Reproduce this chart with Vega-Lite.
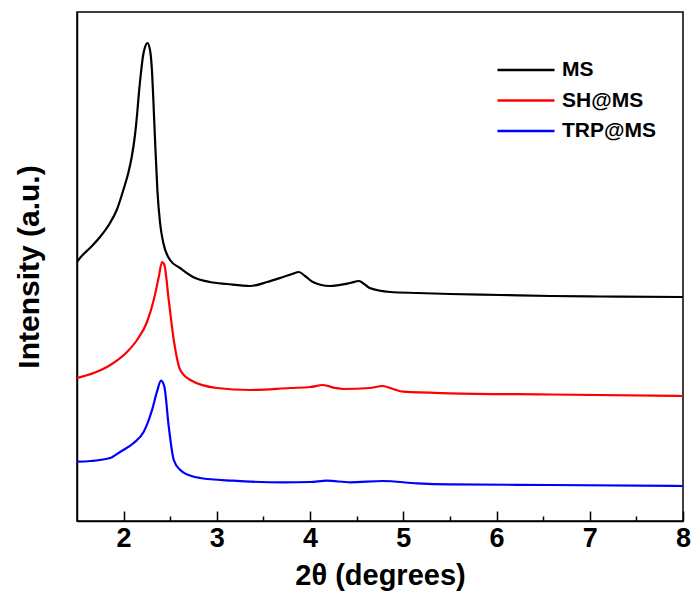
{
  "$schema": "https://vega.github.io/schema/vega-lite/v6.json",
  "width": 606,
  "height": 509,
  "autosize": {"type": "none"},
  "padding": {"left": 77, "top": 12, "right": 13, "bottom": 87},
  "config": {
    "font": "Liberation Sans",
    "view": {"stroke": "#000000", "strokeWidth": 1.5},
    "axis": {"domainColor": "#000000", "domainWidth": 1.5, "tickColor": "#000000", "tickWidth": 1.5, "grid": false, "labelColor": "#000000", "titleColor": "#000000"}
  },
  "data": {"values": [
    {"x": 1.500, "y": 259, "series": "MS"},
    {"x": 1.532, "y": 263, "series": "MS"},
    {"x": 1.639, "y": 273, "series": "MS"},
    {"x": 1.747, "y": 284, "series": "MS"},
    {"x": 1.854, "y": 298, "series": "MS"},
    {"x": 1.926, "y": 311, "series": "MS"},
    {"x": 1.997, "y": 331, "series": "MS"},
    {"x": 2.050, "y": 348, "series": "MS"},
    {"x": 2.087, "y": 364, "series": "MS"},
    {"x": 2.122, "y": 386, "series": "MS"},
    {"x": 2.144, "y": 406, "series": "MS"},
    {"x": 2.165, "y": 429, "series": "MS"},
    {"x": 2.187, "y": 449, "series": "MS"},
    {"x": 2.208, "y": 465, "series": "MS"},
    {"x": 2.230, "y": 474, "series": "MS"},
    {"x": 2.256, "y": 478, "series": "MS"},
    {"x": 2.283, "y": 471, "series": "MS"},
    {"x": 2.305, "y": 449, "series": "MS"},
    {"x": 2.319, "y": 421, "series": "MS"},
    {"x": 2.337, "y": 381, "series": "MS"},
    {"x": 2.362, "y": 331, "series": "MS"},
    {"x": 2.391, "y": 298, "series": "MS"},
    {"x": 2.426, "y": 278, "series": "MS"},
    {"x": 2.498, "y": 261, "series": "MS"},
    {"x": 2.605, "y": 253, "series": "MS"},
    {"x": 2.745, "y": 244, "series": "MS"},
    {"x": 2.927, "y": 239, "series": "MS"},
    {"x": 3.109, "y": 237, "series": "MS"},
    {"x": 3.356, "y": 235, "series": "MS"},
    {"x": 3.54, "y": 239, "series": "MS"},
    {"x": 3.71, "y": 244, "series": "MS"},
    {"x": 3.807, "y": 247, "series": "MS"},
    {"x": 3.88, "y": 249, "series": "MS"},
    {"x": 3.946, "y": 245, "series": "MS"},
    {"x": 4.03, "y": 239, "series": "MS"},
    {"x": 4.21, "y": 235, "series": "MS"},
    {"x": 4.43, "y": 238, "series": "MS"},
    {"x": 4.526, "y": 240, "series": "MS"},
    {"x": 4.58, "y": 237, "series": "MS"},
    {"x": 4.64, "y": 233, "series": "MS"},
    {"x": 4.86, "y": 229, "series": "MS"},
    {"x": 5.15, "y": 228, "series": "MS"},
    {"x": 5.50, "y": 227, "series": "MS"},
    {"x": 6.04, "y": 226, "series": "MS"},
    {"x": 6.58, "y": 225, "series": "MS"},
    {"x": 7.11, "y": 224.5, "series": "MS"},
    {"x": 8.0, "y": 224, "series": "MS"},

    {"x": 1.500, "y": 143, "series": "SH@MS"},
    {"x": 1.679, "y": 148, "series": "SH@MS"},
    {"x": 1.857, "y": 156, "series": "SH@MS"},
    {"x": 2.036, "y": 169, "series": "SH@MS"},
    {"x": 2.144, "y": 181, "series": "SH@MS"},
    {"x": 2.251, "y": 199, "series": "SH@MS"},
    {"x": 2.323, "y": 221, "series": "SH@MS"},
    {"x": 2.377, "y": 244, "series": "SH@MS"},
    {"x": 2.412, "y": 259, "series": "SH@MS"},
    {"x": 2.437, "y": 256, "series": "SH@MS"},
    {"x": 2.484, "y": 221, "series": "SH@MS"},
    {"x": 2.538, "y": 181, "series": "SH@MS"},
    {"x": 2.608, "y": 151, "series": "SH@MS"},
    {"x": 2.716, "y": 141, "series": "SH@MS"},
    {"x": 3.0, "y": 133, "series": "SH@MS"},
    {"x": 3.356, "y": 131, "series": "SH@MS"},
    {"x": 3.785, "y": 133, "series": "SH@MS"},
    {"x": 4.0, "y": 134, "series": "SH@MS"},
    {"x": 4.14, "y": 136, "series": "SH@MS"},
    {"x": 4.27, "y": 133, "series": "SH@MS"},
    {"x": 4.354, "y": 132, "series": "SH@MS"},
    {"x": 4.64, "y": 133, "series": "SH@MS"},
    {"x": 4.78, "y": 135, "series": "SH@MS"},
    {"x": 4.89, "y": 132, "series": "SH@MS"},
    {"x": 5.0, "y": 129.3, "series": "SH@MS"},
    {"x": 5.5, "y": 127.7, "series": "SH@MS"},
    {"x": 6.58, "y": 126.5, "series": "SH@MS"},
    {"x": 8.0, "y": 125, "series": "SH@MS"},

    {"x": 1.500, "y": 59.3, "series": "TRP@MS"},
    {"x": 1.643, "y": 60, "series": "TRP@MS"},
    {"x": 1.857, "y": 63, "series": "TRP@MS"},
    {"x": 1.965, "y": 69.3, "series": "TRP@MS"},
    {"x": 2.108, "y": 78, "series": "TRP@MS"},
    {"x": 2.216, "y": 89.3, "series": "TRP@MS"},
    {"x": 2.305, "y": 111, "series": "TRP@MS"},
    {"x": 2.358, "y": 129.3, "series": "TRP@MS"},
    {"x": 2.401, "y": 140.3, "series": "TRP@MS"},
    {"x": 2.437, "y": 134.3, "series": "TRP@MS"},
    {"x": 2.484, "y": 94.3, "series": "TRP@MS"},
    {"x": 2.538, "y": 61, "series": "TRP@MS"},
    {"x": 2.608, "y": 51, "series": "TRP@MS"},
    {"x": 2.752, "y": 44.3, "series": "TRP@MS"},
    {"x": 2.82, "y": 43, "series": "TRP@MS"},
    {"x": 3.174, "y": 40.3, "series": "TRP@MS"},
    {"x": 3.71, "y": 38.7, "series": "TRP@MS"},
    {"x": 4.0, "y": 39, "series": "TRP@MS"},
    {"x": 4.18, "y": 40.3, "series": "TRP@MS"},
    {"x": 4.43, "y": 38.7, "series": "TRP@MS"},
    {"x": 4.78, "y": 40, "series": "TRP@MS"},
    {"x": 5.15, "y": 37.7, "series": "TRP@MS"},
    {"x": 5.5, "y": 36.7, "series": "TRP@MS"},
    {"x": 6.58, "y": 36, "series": "TRP@MS"},
    {"x": 8.0, "y": 35, "series": "TRP@MS"}
  ]},
  "layer": [
    {
      "mark": {"type": "line", "strokeWidth": 2.2, "interpolate": "monotone"},
      "encoding": {
        "x": {"field": "x", "type": "quantitative", "scale": {"domain": [1.5, 8], "nice": false, "zero": false},
          "axis": {"values": [2, 3, 4, 5, 6, 7, 8], "tickSize": -10, "labelFontSize": 27, "labelFontWeight": "bold", "labelPadding": 14, "labelFlush": false, "title": "2θ (degrees)", "titleFontSize": 29, "titleFontWeight": "bold", "titlePadding": 10}},
        "y": {"field": "y", "type": "quantitative", "scale": {"domain": [0, 509], "nice": false},
          "axis": {"ticks": false, "labels": false, "title": "Intensity (a.u.)", "titleFontSize": 30, "titleFontWeight": "bold", "titlePadding": 33}},
        "color": {"field": "series", "type": "nominal",
          "scale": {"domain": ["MS", "SH@MS", "TRP@MS"], "range": ["#000000", "#ff0000", "#0000ff"]},
          "legend": {"title": null, "orient": "none", "legendX": 419, "legendY": 43, "symbolType": "stroke", "symbolSize": 3249, "symbolStrokeWidth": 2.5, "labelFontSize": 21, "labelFontWeight": "bold", "labelColor": "#000000", "clipHeight": 30, "rowPadding": 0.5, "labelOffset": 6}}
      }
    },
    {
      "mark": {"type": "point", "opacity": 0},
      "encoding": {
        "x": {"field": "x", "type": "quantitative", "scale": {"domain": [1.5, 8], "nice": false, "zero": false},
          "axis": {"orient": "bottom", "values": [2.5, 3.5, 4.5, 5.5, 6.5, 7.5], "tickSize": -5, "labels": false, "title": null, "domain": false}}
      }
    }
  ],
  "resolve": {"axis": {"x": "independent"}}
}
